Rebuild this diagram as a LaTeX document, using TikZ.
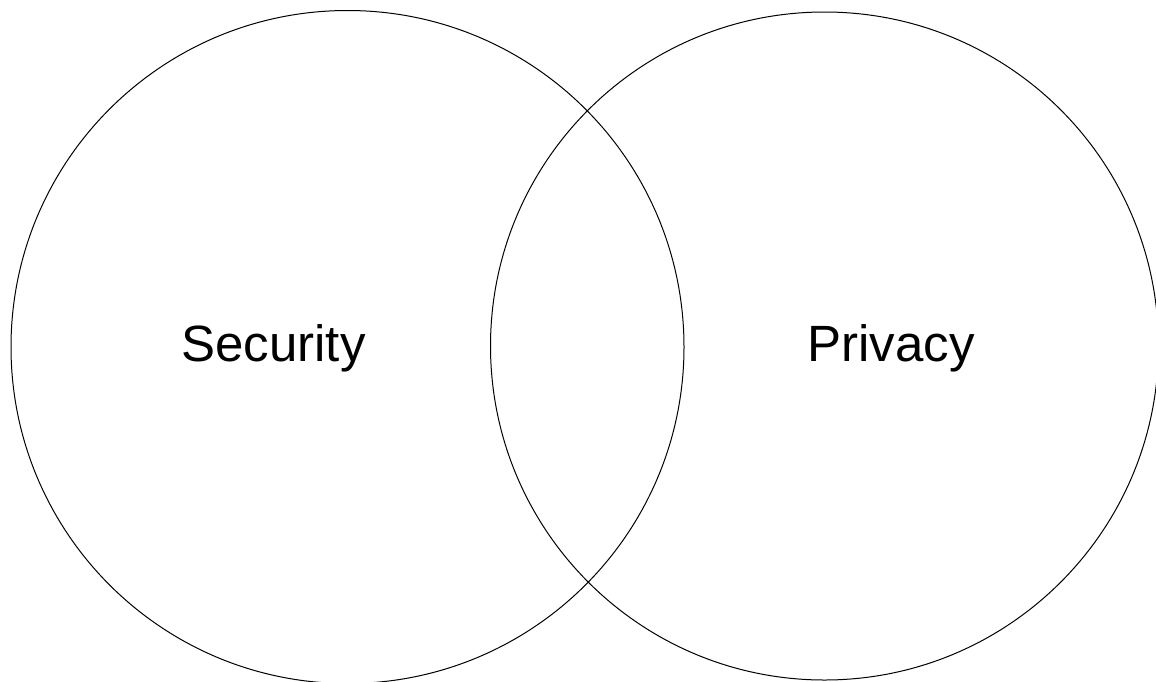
\documentclass[tikz,border=0pt]{standalone}
\usepackage{fontspec}
\setmainfont{Liberation Sans}
\begin{document}
\begin{tikzpicture}[x=1pt,y=-1pt,
  setcircle/.style={draw=black,line width=1pt},
  setlabel/.style={font=\fontsize{51}{60}\selectfont,anchor=base,inner sep=0pt}]
\useasboundingbox (0,0) rectangle (1156,681);
\clip (0,0) rectangle (1156,681);
\fill[white] (0,0) rectangle (1156,681);
\draw[setcircle] (347.5,347) circle[radius=336.5];
\draw[setcircle] (824.5,346) circle[radius=334];
\node[setlabel] (security) at (273.5,361) {Security};
\node[setlabel] (privacy) at (891,361) {Privacy};
\end{tikzpicture}
\end{document}
